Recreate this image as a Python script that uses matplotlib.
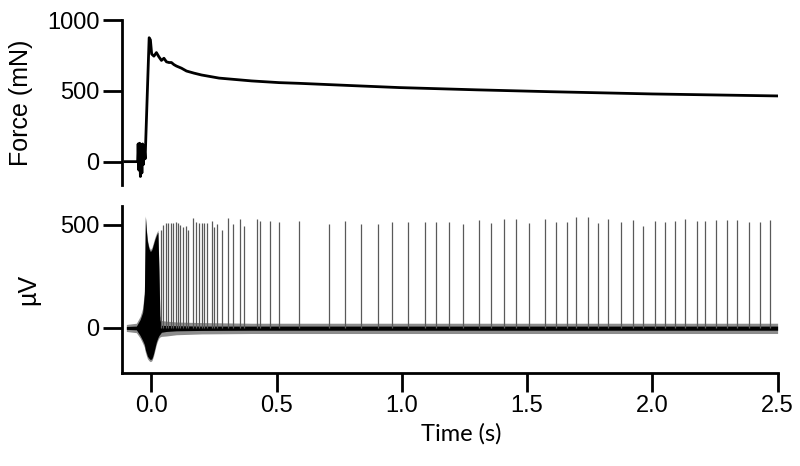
import matplotlib
matplotlib.use("Agg")
from matplotlib import pyplot as plt

plt.rcParams['font.family'] = ['Liberation Sans', 'DejaVu Sans']

# force trace (s, mN)
force_t = [-0.105, -0.055, -0.053, -0.050, -0.047, -0.044, -0.041, -0.038, -0.035, -0.032,
           -0.029, -0.025, -0.017, -0.009, -0.004, 0.001, 0.010, 0.020, 0.030, 0.040,
           0.050, 0.060, 0.070, 0.080, 0.090, 0.100, 0.120, 0.140, 0.170, 0.200,
           0.270, 0.400, 0.510, 0.590, 0.800, 0.990, 1.300, 1.590, 2.000, 2.500]
force_v = [0, 0, 125, -60, 130, -105, 120, -80, 125, -20,
           110, 20, 450, 875, 860, 760, 745, 770, 740, 715,
           730, 705, 700, 700, 685, 675, 660, 640, 625, 612,
           590, 570, 558, 553, 537, 523, 507, 494, 478, 464]

# EMG spikes: times (s) and peak amplitudes (uV)
spike_t = [0.038, 0.047, 0.057, 0.067, 0.077, 0.087, 0.098, 0.107, 0.116, 0.127,
           0.138, 0.148, 0.167, 0.180, 0.191, 0.200, 0.209, 0.220, 0.240, 0.250,
           0.262, 0.280, 0.304, 0.326, 0.353, 0.369, 0.423, 0.433, 0.472, 0.508,
           0.589, 0.708, 0.772, 0.838, 0.904, 0.961, 1.025, 1.094, 1.138, 1.187,
           1.243, 1.307, 1.356, 1.406, 1.455, 1.506, 1.570, 1.616, 1.658, 1.695,
           1.745, 1.781, 1.821, 1.875, 1.923, 1.961, 2.011, 2.051, 2.089, 2.130,
           2.177, 2.212, 2.255, 2.297, 2.338, 2.384, 2.429, 2.470]
spike_v = [476, 500, 508, 508, 508, 508, 516, 508, 500, 492,
           495, 476, 532, 516, 511, 511, 511, 508, 521, 489,
           503, 476, 532, 505, 527, 497, 527, 521, 521, 513,
           519, 505, 521, 505, 505, 516, 513, 516, 513, 513,
           505, 524, 508, 527, 527, 511, 527, 516, 516, 540,
           537, 508, 529, 516, 524, 497, 519, 513, 519, 529,
           519, 519, 524, 524, 524, 516, 516, 524]

# EMG noise envelope (outer, grey) and dense burst / core (black)
env_t = [-0.100, -0.060, -0.045, -0.035, -0.028, -0.024, -0.020, -0.016, -0.010, -0.004,
         0.002, 0.008, 0.014, 0.020, 0.026, 0.030, 0.034, 0.040, 0.060, 0.100,
         0.200, 0.400, 0.700, 1.000, 1.500, 2.000, 2.500]
env_hi = [16, 22, 55, 95, 180, 545, 480, 430, 395, 380,
          390, 415, 440, 460, 475, 300, 60, 35, 32, 28,
          25, 22, 22, 22, 22, 22, 22]
env_lo = [-18, -24, -50, -75, -95, -120, -135, -150, -160, -165,
          -160, -140, -110, -80, -60, -50, -45, -42, -40, -34,
          -30, -28, -28, -28, -28, -28, -28]
core_hi = [6, 8, 40, 75, 165, 540, 470, 420, 385, 370,
           380, 405, 430, 450, 465, 285, 40, 12, 11, 10,
           8, 8, 8, 8, 8, 8, 8]
core_lo = [-8, -10, -38, -62, -82, -108, -122, -138, -148, -155,
           -150, -128, -98, -68, -48, -38, -32, -22, -18, -15,
           -13, -12, -12, -12, -12, -12, -12]

force_ticks = [0, 500, 1000]
emg_ticks = [0, 500]
time_ticks = [0.0, 0.5, 1.0, 1.5, 2.0, 2.5]

fig = plt.figure(figsize=(8, 4.66), dpi=100)
ax1 = fig.add_axes([0.152, 0.603, 0.820, 0.354])
ax2 = fig.add_axes([0.152, 0.200, 0.820, 0.358])

ax1.plot(force_t, force_v, color='black', lw=2.0)
ax1.set_xlim(-0.119, 2.5)
ax1.set_ylim(-165, 1000)
ax1.set_yticks(force_ticks)
ax1.set_xticks([])
ax1.set_ylabel('Force (mN)', fontsize=18)
ax1.yaxis.set_label_coords(-0.135, 0.5)

ax2.fill_between(env_t, env_lo, env_hi, color='0.55', lw=0)
ax2.fill_between(env_t, core_lo, core_hi, color='black', lw=0)
ax2.vlines(spike_t, 0, spike_v, color='0.35', lw=0.9)
ax2.set_xlim(-0.119, 2.5)
ax2.set_ylim(-219, 592)
ax2.set_yticks(emg_ticks)
ax2.set_xticks(time_ticks)
ax2.set_xticklabels(['%.1f' % t for t in time_ticks])
ax2.set_ylabel('\u00b5V', fontsize=18)
ax2.yaxis.set_label_coords(-0.124, 0.5)
ax2.set_xlabel('Time (s)', fontsize=17, family=['Lato', 'DejaVu Sans'])
ax2.xaxis.set_label_coords(0.518, -0.30)

for ax in (ax1, ax2):
    for side in ('top', 'right'):
        ax.spines[side].set_visible(False)
    ax.spines['left'].set_linewidth(2)
    ax.spines['bottom'].set_linewidth(2)
    ax.tick_params(length=14, width=2, labelsize=17, pad=2)
ax1.spines['bottom'].set_visible(False)

fig.savefig('out.png', dpi=100)
